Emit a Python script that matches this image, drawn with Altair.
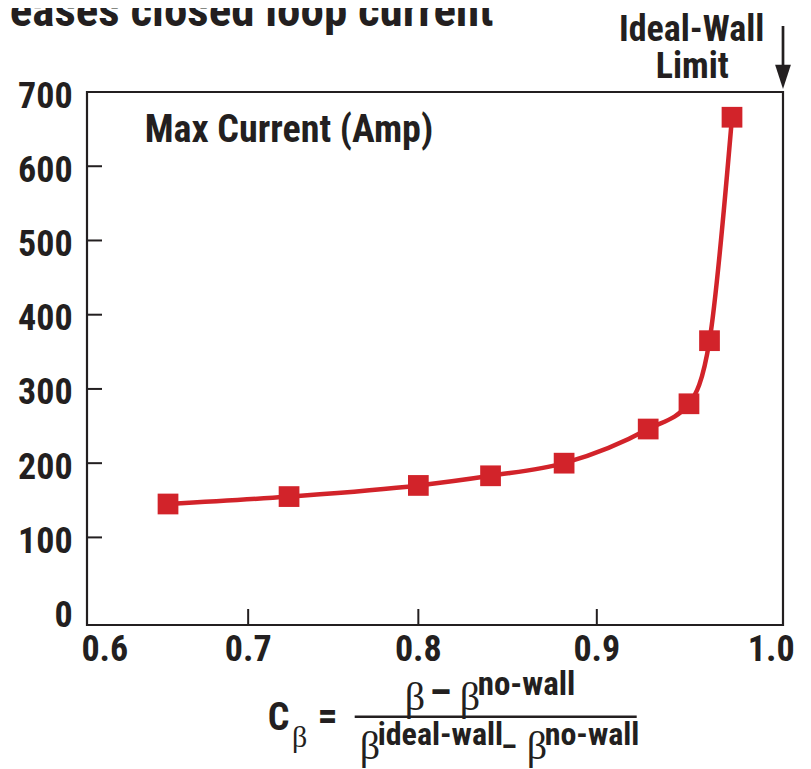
import altair as alt
import pandas as pd

# ---- data ----
cb_values = [0.651, 0.7245, 0.800, 0.841, 0.882, 0.928, 0.950, 0.961, 0.973]
max_current = [145, 155, 170, 183, 200, 246, 280, 365, 666]
x_ticks = [0.6, 0.7, 0.8, 0.9, 1.0]
x_tick_labels = ["0.6", "0.7", "0.8", "0.9", "1.0"]
x_inner_ticks = [0.7, 0.8, 0.9]
y_ticks = [0, 100, 200, 300, 400, 500, 600, 700]
y_tick_labels = ["0", "100", "200", "300", "400", "500", "600", "700"]
y_inner_ticks = [100, 200, 300, 400, 500, 600]
ideal_wall = [1.0]

RED = "#d2232a"
INK = "#231f20"
FONT = "'Roboto Condensed', 'Noto Sans Condensed', 'Liberation Sans Narrow', 'Liberation Sans', Arial, sans-serif"
SERIF = "'Liberation Serif', 'DejaVu Serif', serif"

W, H = 696, 533

df = pd.DataFrame({"cb": cb_values, "amp": max_current})
xdf = pd.DataFrame({"v": x_ticks, "t": x_tick_labels})
ydf = pd.DataFrame({"v": y_ticks, "t": y_tick_labels})
one = pd.DataFrame({"a": [0]})

xscale = alt.Scale(type="pow", exponent=1.38, domain=[0.6, 1.0], nice=False, zero=False)
yscale = alt.Scale(domain=[-18, 700], nice=False, zero=False)


def X(field):
    return alt.X(field, type="quantitative", scale=xscale, axis=None)


def Y(field):
    return alt.Y(field, type="quantitative", scale=yscale, axis=None)


line = alt.Chart(df).mark_line(color=RED, strokeWidth=4.5, interpolate="monotone").encode(
    x=X("cb"), y=Y("amp")
)
squares = alt.Chart(df).mark_square(size=430, color=RED, opacity=1).encode(x=X("cb"), y=Y("amp"))

yt = alt.Chart(pd.DataFrame({"v": y_inner_ticks})).mark_rule(color=INK, strokeWidth=2).encode(
    y=Y("v"), x=alt.value(0), x2=alt.value(15)
)
xt = alt.Chart(pd.DataFrame({"v": x_inner_ticks})).mark_rule(color=INK, strokeWidth=2).encode(
    x=X("v"), y=alt.value(H), y2=alt.value(H - 16)
)

# tick labels (through the scales)
ylab = alt.Chart(ydf).mark_text(
    font=FONT, fontSize=36, fontWeight="bold", color=INK, align="right", baseline="alphabetic", dy=15.5
).encode(y=Y("v"), x=alt.value(-14.3), text="t:N")
xlab_mid = alt.Chart(xdf).transform_filter("datum.v > 0.65 && datum.v < 0.95").mark_text(
    font=FONT, fontSize=36, fontWeight="bold", color=INK, align="center", baseline="alphabetic"
).encode(x=X("v"), y=alt.value(568.7), text="t:N")
xlab_first = alt.Chart(xdf).transform_filter("datum.v < 0.65").mark_text(
    font=FONT, fontSize=36, fontWeight="bold", color=INK, align="left", baseline="alphabetic", dx=-5.6
).encode(x=X("v"), y=alt.value(568.7), text="t:N")
xlab_last = alt.Chart(xdf).transform_filter("datum.v > 0.95").mark_text(
    font=FONT, fontSize=36, fontWeight="bold", color=INK, align="right", baseline="alphabetic", dx=11.7
).encode(x=X("v"), y=alt.value(568.7), text="t:N")

shaft = alt.Chart(pd.DataFrame({"x": ideal_wall})).mark_rule(color=INK, strokeWidth=2.7).encode(
    x=X("x"), y=alt.value(-66), y2=alt.value(-26)
)
head = alt.Chart(pd.DataFrame({"x": ideal_wall})).mark_point(
    shape="M-0.65,-1L0.65,-1L0,1Z", filled=True, size=590, color=INK, opacity=1
).encode(x=X("x"), y=alt.value(-15.2))


def label(text, x, y, size, font=FONT, weight="bold", align="left"):
    return alt.Chart(one).mark_text(
        font=font, fontSize=size, fontWeight=weight, color=INK, align=align, baseline="alphabetic"
    ).encode(x=alt.value(x), y=alt.value(y), text=alt.value(text))


texts = [
    label("reases closed loop current", -92.3, -66.3, 47),
    label("Max Current (Amp)", 57.7, 49.7, 38),
    label("Ideal-Wall", 604.7, -51.5, 36, align="center"),
    label("Limit", 605.2, -14.5, 36, align="center"),
    # C_beta =
    label("C", 180.7, 637.7, 38),
    label("β", 205, 655, 30, font=SERIF, weight="normal"),
    label("=", 230.5, 637, 40),
    # numerator
    label("β", 317.7, 617.7, 40, font=SERIF, weight="normal"),
    label("–", 353.5, 613.5, 40, align="center"),
    label("β", 372.7, 617.7, 40, font=SERIF, weight="normal"),
    label("no-wall", 390.7, 602.7, 33),
    # denominator
    label("β", 272.7, 666.7, 40, font=SERIF, weight="normal"),
    label("ideal-wall_", 290.7, 652.7, 32),
    label("β", 439.7, 666.7, 40, font=SERIF, weight="normal"),
    label("no-wall", 457.7, 652.7, 32),
]

frac = alt.Chart(one).mark_rule(color=INK, strokeWidth=2.5).encode(
    x=alt.value(267.7), x2=alt.value(549.7), y=alt.value(624.7)
)

chart = alt.layer(
    yt, xt, line, squares, ylab, xlab_mid, xlab_first, xlab_last, shaft, head, frac, *texts
).properties(
    width=W, height=H,
    autosize=alt.AutoSizeParams(type="none"),
    padding={"left": 79, "top": 84, "right": 16, "bottom": 144},
    background="white",
).configure_view(stroke=INK, strokeWidth=2.2)

chart.save("out.html", embed_options={"renderer": "svg", "actions": False})
